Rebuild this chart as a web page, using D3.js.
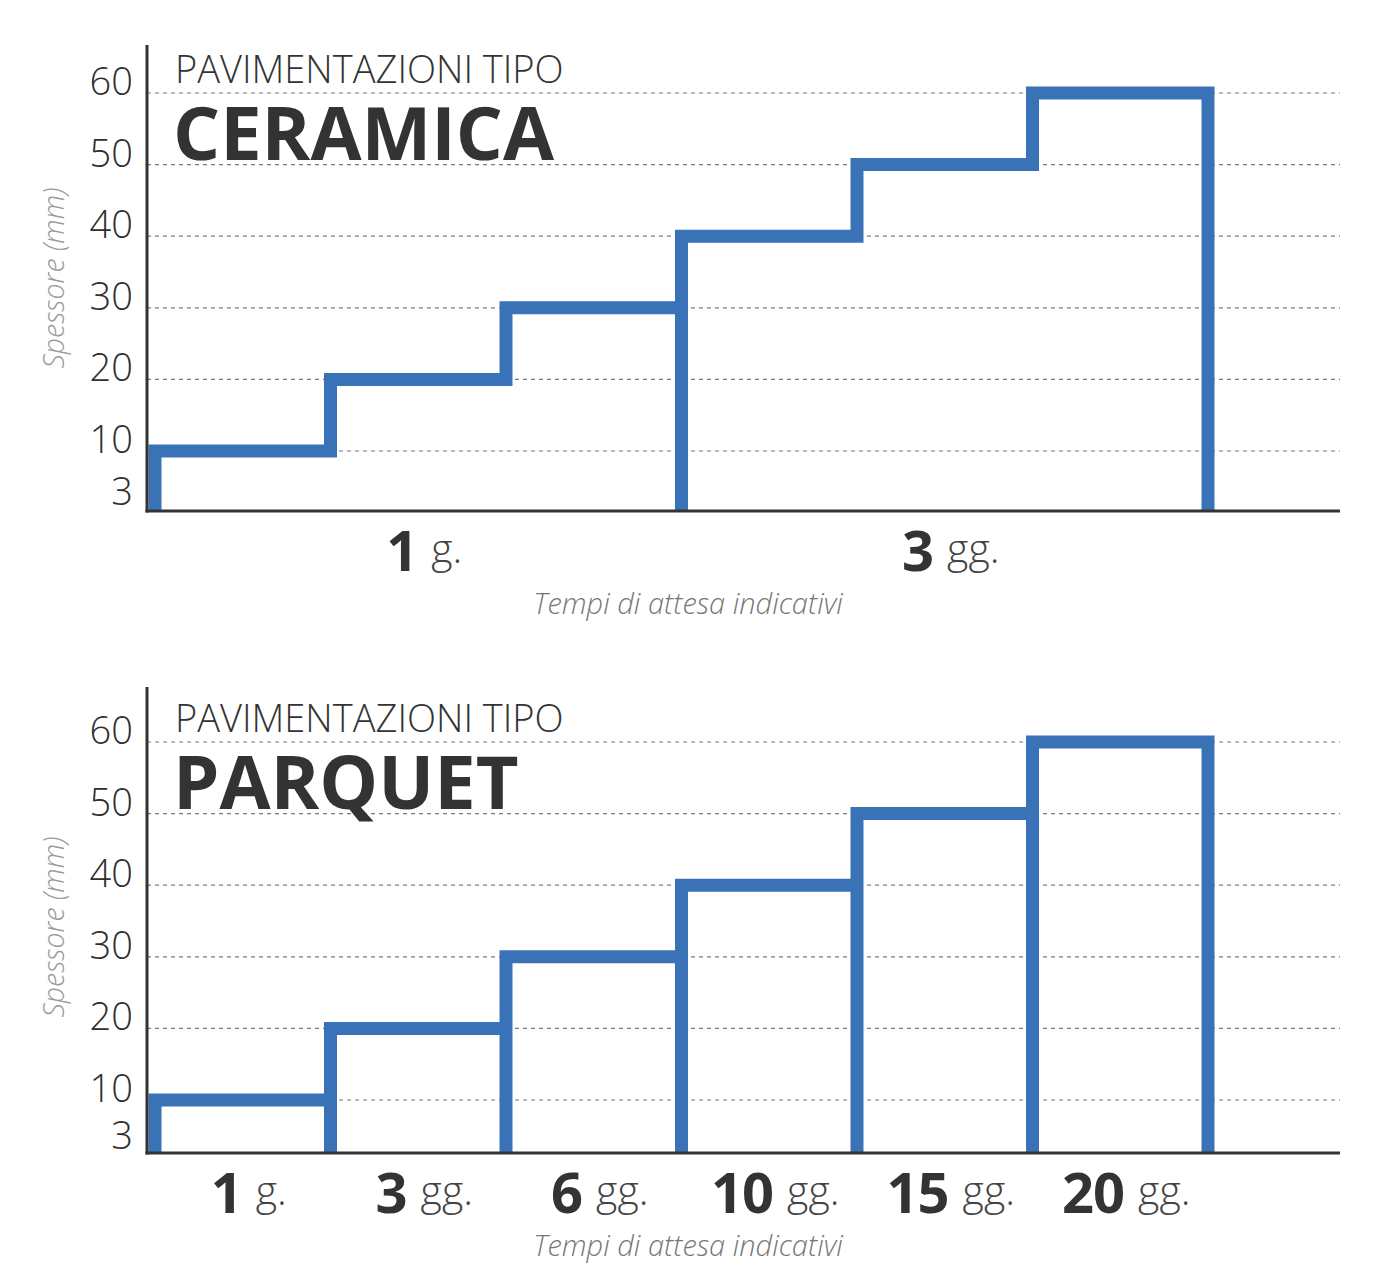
<!DOCTYPE html>
<html>
<head>
<meta charset="utf-8">
<script src="https://cdn.jsdelivr.net/npm/d3@7"></script>
<style>
  html, body { margin: 0; padding: 0; background: #fff; }
  svg { display: block; }
  text { font-family: "Open Sans", "Noto Sans", sans-serif; }
</style>
</head>
<body>
<svg id="chart" width="1400" height="1280"></svg>
<script>
// ---------- DATA ----------
const yTicks = [10, 20, 30, 40, 50, 60];
const yMinLabel = 3;
const yAxisTitle = "Spessore (mm)";
const xAxisTitle = "Tempi di attesa indicativi";
const subtitle = "PAVIMENTAZIONI TIPO";

const ceramicaTitle = "CERAMICA";
const ceramicaValues = [10, 20, 30, 40, 50, 60];
const ceramicaGroups = ["1", "1", "1", "3", "3", "3"];
const ceramicaGroupLabels = ["1", "3"];
const ceramicaGroupUnits = ["g.", "gg."];

const parquetTitle = "PARQUET";
const parquetValues = [10, 20, 30, 40, 50, 60];
const parquetGroups = ["1", "3", "6", "10", "15", "20"];
const parquetGroupLabels = ["1", "3", "6", "10", "15", "20"];
const parquetGroupUnits = ["g.", "gg.", "gg.", "gg.", "gg.", "gg."];

// ---------- DRAW ----------
const svg = d3.select("#chart");
const BLUE = "#3a72b8";
const DARK = "#333333";

const panels = [
  { title: ceramicaTitle, values: ceramicaValues, groups: ceramicaGroups,
    labels: ceramicaGroupLabels, units: ceramicaGroupUnits, y60: 93, base: 511, top: 45 },
  { title: parquetTitle, values: parquetValues, groups: parquetGroups,
    labels: parquetGroupLabels, units: parquetGroupUnits, y60: 742, base: 1153, top: 687 }
];

const axisX = 147, axisRight = 1340;

panels.forEach(p => {
  const g = svg.append("g");
  const y = d3.scaleLinear().domain([10, 60]).range([p.y60 + 358, p.y60]);
  const idx = d3.range(p.values.length);
  const x = d3.scaleBand().domain(idx).range([155, 1208]).padding(0);

  // gridlines
  g.selectAll("line.grid").data(yTicks).join("line")
    .attr("class", "grid")
    .attr("x1", axisX).attr("x2", axisRight)
    .attr("y1", d => y(d)).attr("y2", d => y(d))
    .attr("stroke", "#7a7a7a").attr("stroke-width", 1.2)
    .attr("stroke-dasharray", "4,4");

  // y tick labels
  g.selectAll("text.ytick").data(yTicks).join("text")
    .attr("class", "ytick")
    .attr("x", 133).attr("y", d => y(d) + 2)
    .attr("text-anchor", "end")
    .attr("font-size", 38).attr("font-weight", 300)
    .attr("fill", "#2e2e2e")
    .text(d => d);
  g.append("text")
    .attr("x", 133).attr("y", Math.min(y(yMinLabel) + 4, p.base - 4))
    .attr("text-anchor", "end")
    .attr("font-size", 38).attr("font-weight", 300)
    .attr("fill", "#2e2e2e")
    .text(yMinLabel);

  // step path
  const path = d3.path();
  const n = p.values.length;
  path.moveTo(x(0), p.base);
  path.lineTo(x(0), y(p.values[0]));
  for (let i = 1; i < n; i++) {
    const xi = x(i);
    path.lineTo(xi, y(p.values[i - 1]));
    if (p.groups[i] === p.groups[i - 1]) {
      path.lineTo(xi, y(p.values[i]));
    } else {
      path.lineTo(xi, p.base);
      path.moveTo(xi, p.base);
      path.lineTo(xi, y(p.values[i]));
    }
  }
  const xEnd = x(n - 1) + x.bandwidth();
  path.lineTo(xEnd, y(p.values[n - 1]));
  path.lineTo(xEnd, p.base);

  g.append("path")
    .attr("d", path.toString())
    .attr("fill", "none")
    .attr("stroke", BLUE)
    .attr("stroke-width", 13)
    .attr("stroke-linejoin", "miter")
    .attr("stroke-linecap", "butt");

  // axes
  g.append("line")
    .attr("x1", axisX).attr("x2", axisX)
    .attr("y1", p.top).attr("y2", p.base + 1.5)
    .attr("stroke", DARK).attr("stroke-width", 3);
  g.append("line")
    .attr("x1", axisX - 1.5).attr("x2", axisRight)
    .attr("y1", p.base).attr("y2", p.base)
    .attr("stroke", DARK).attr("stroke-width", 3);

  // titles
  g.append("text")
    .attr("x", 175).attr("y", p.y60 - 10)
    .attr("font-size", 38).attr("font-weight", 300)
    .attr("fill", DARK)
    .text(subtitle);
  g.append("text")
    .attr("x", 173).attr("y", p.y60 + 67)
    .attr("font-size", 74).attr("font-weight", 700)
    .attr("fill", DARK)
    .text(p.title);

  // x group labels
  const uniq = Array.from(new Set(p.groups));
  uniq.forEach((grp, k) => {
    const members = idx.filter(i => p.groups[i] === grp);
    const x0 = x(members[0]);
    const x1 = x(members[members.length - 1]) + x.bandwidth();
    const t = g.append("text")
      .attr("x", (x0 + x1) / 2 + 6)
      .attr("y", p.base + 60)
      .attr("text-anchor", "middle")
      .attr("fill", DARK);
    t.append("tspan")
      .attr("font-size", 56).attr("font-weight", 700)
      .attr("letter-spacing", -1)
      .text(p.labels[k]);
    t.append("tspan")
      .attr("dx", 14).attr("dy", -8)
      .attr("font-size", 41).attr("font-weight", 300)
      .attr("fill", "#444")
      .text(p.units[k]);
  });

  // axis titles
  g.append("text")
    .attr("transform", `translate(64,${p.y60 + 185}) rotate(-90)`)
    .attr("text-anchor", "middle")
    .attr("font-size", 28.5).attr("font-weight", 300)
    .attr("font-style", "italic")
    .attr("fill", "#9a9a9a")
    .text(yAxisTitle);
  g.append("text")
    .attr("x", 688).attr("y", p.base + 103)
    .attr("text-anchor", "middle")
    .attr("font-size", 29).attr("font-weight", 300)
    .attr("font-style", "italic")
    .attr("fill", "#777")
    .text(xAxisTitle);
});
</script>
</body>
</html>
